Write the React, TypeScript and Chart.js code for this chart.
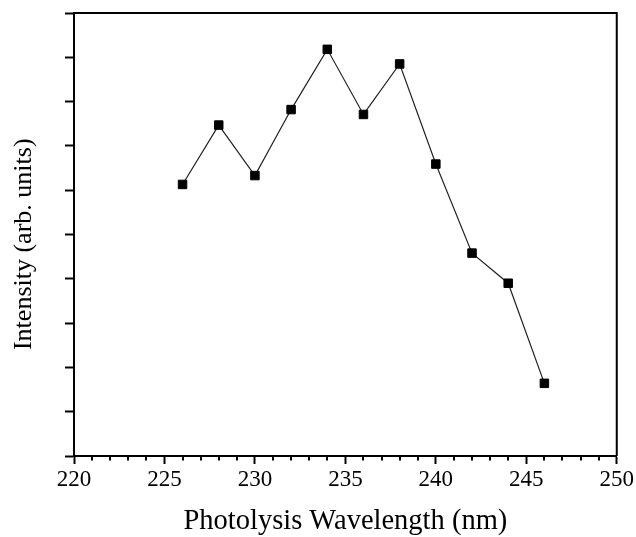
import React, { useEffect, useRef } from "react";
import { Chart, registerables } from "chart.js";

Chart.register(...registerables);

const wavelengths = [226, 228, 230, 232, 234, 236, 238, 240, 242, 244, 246];
const intensity = [6.13, 7.47, 6.33, 7.82, 9.18, 7.71, 8.85, 6.59, 4.58, 3.9, 1.64];
const xMin = 220;
const xMax = 250;
const xMajorStep = 5;
const xMinorStep = 1;
const yMin = 0;
const yMax = 10;
const xTitle = "Photolysis Wavelength (nm)";
const yTitle = "Intensity (arb. units)\u00A0\u00A0\u00A0";

const FONT = "'Liberation Serif', 'Times New Roman', serif";

const framePlugin = {
  id: "frameAndMinor",
  afterDraw(chart: any) {
    const { ctx, chartArea } = chart;
    const xs = chart.scales.x;
    ctx.save();
    ctx.strokeStyle = "#000";
    ctx.lineWidth = 2;
    ctx.beginPath();
    ctx.moveTo(chartArea.left, chartArea.top);
    ctx.lineTo(chartArea.right, chartArea.top);
    ctx.lineTo(chartArea.right, chartArea.bottom);
    ctx.stroke();
    ctx.beginPath();
    for (let v = xMin; v <= xMax; v += xMinorStep) {
      if (v % xMajorStep === 0) continue;
      const px = Math.round(xs.getPixelForValue(v));
      ctx.moveTo(px, chartArea.bottom);
      ctx.lineTo(px, chartArea.bottom + 4.5);
    }
    ctx.stroke();
    ctx.restore();
  },
};

export default function App() {
  const ref = useRef<HTMLCanvasElement>(null);
  useEffect(() => {
    document.body.style.margin = "0";
    const chart = new Chart(ref.current as HTMLCanvasElement, {
      type: "line",
      data: {
        datasets: [
          {
            data: wavelengths.map((w, i) => ({ x: w, y: intensity[i] })),
            borderColor: "#222",
            borderWidth: 1.2,
            pointStyle: "rect",
            pointRadius: 6,
            pointBackgroundColor: "#000",
            pointBorderColor: "#000",
            pointBorderWidth: 1,
            tension: 0,
          },
        ],
      },
      options: {
        responsive: false,
        animation: false,
        layout: { padding: { top: 13, right: 19, left: 0, bottom: 0 } },
        plugins: { legend: { display: false }, tooltip: { enabled: false } },
        scales: {
          x: {
            type: "linear",
            position: "bottom",
            min: xMin,
            max: xMax,
            ticks: {
              stepSize: xMajorStep,
              color: "#000",
              font: { family: FONT, size: 23 },
              padding: 2,
              maxRotation: 0,
            },
            grid: {
              drawOnChartArea: false,
              drawTicks: true,
              tickLength: 8,
              tickWidth: 2,
              tickColor: "#000",
            },
            border: { color: "#000", width: 2 },
            title: {
              display: true,
              text: xTitle,
              color: "#000",
              font: { family: FONT, size: 28.5, lineHeight: 1 },
              padding: { top: 0, bottom: 1 },
            },
            afterFit(scale: any) {
              scale.height = 81;
            },
          },
          y: {
            type: "linear",
            min: yMin,
            max: yMax,
            ticks: { stepSize: 1, display: false },
            grid: {
              drawOnChartArea: false,
              drawTicks: true,
              tickLength: 9,
              tickWidth: 2,
              tickColor: "#000",
            },
            border: { color: "#000", width: 2 },
            title: {
              display: true,
              text: yTitle,
              color: "#000",
              font: { family: FONT, size: 26, lineHeight: 1 },
              padding: { top: 11, bottom: 0 },
            },
            afterFit(scale: any) {
              scale.width = 74;
            },
          },
        },
      },
      plugins: [framePlugin],
    });
    return () => chart.destroy();
  }, []);
  return (
    <div style={{ width: 636, height: 537, background: "#fff" }}>
      <canvas ref={ref} width={636} height={537} />
    </div>
  );
}
